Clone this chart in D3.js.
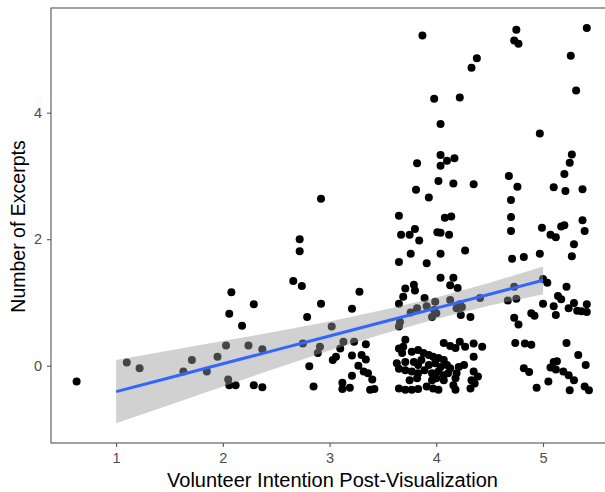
<!DOCTYPE html>
<html>
<head>
<meta charset="utf-8">
<script src="https://cdn.jsdelivr.net/npm/d3@7"></script>
<style>
  body { margin: 0; background: #fff; }
  text { font-family: "Liberation Sans", Arial, sans-serif; }
</style>
</head>
<body>
<script>
// jittered observations (volunteer intention, number of excerpts)
const intention = [
  0.63, 1.10, 1.22, 1.63, 1.71, 1.85, 1.95, 2.03, 2.05, 2.06, 2.12, 2.06, 2.08, 2.18, 2.24, 2.29, 2.29, 2.37, 2.37,
  2.66, 2.72, 2.72, 2.74, 2.79, 2.75, 2.81, 2.92, 2.92, 3.02, 3.28, 3.21, 3.34, 3.13, 3.23, 3.10, 2.91, 2.89, 3.06,
  3.03, 3.21, 3.30, 3.34, 3.27, 3.32, 3.36, 3.40, 3.21, 3.12, 3.12, 3.19, 2.85, 3.38, 3.42,
  3.65, 3.67, 3.65, 3.65, 3.65, 3.65, 3.63, 3.65, 3.65, 3.87, 4.38, 4.33, 3.98, 4.22, 4.04, 4.04, 4.10, 4.17, 4.04,
  3.82, 4.02, 4.16, 4.35, 3.81, 3.93, 4.08, 4.14, 3.75, 3.80, 3.84, 4.01, 4.04, 4.12, 3.76, 4.04, 4.27, 3.91, 4.04,
  4.16, 4.13, 4.20, 3.71, 3.79, 3.80, 3.69, 3.89, 3.99, 4.13, 4.22, 4.41, 3.76, 3.82, 3.91, 3.98, 4.19, 4.24, 3.96,
  4.00, 4.23, 4.32, 3.66,
  3.71, 3.69, 4.07, 4.13, 4.18, 4.22, 4.27, 4.35, 4.43, 3.68, 3.77, 3.83, 3.88, 3.93, 3.97, 4.02, 4.07, 4.35, 3.71,
  3.79, 3.83, 3.86, 3.93, 3.99, 4.04, 4.10, 4.13, 4.21, 4.26, 3.71, 3.77, 3.83, 3.89, 3.96, 4.02, 4.07, 4.11, 4.19,
  4.35, 4.39, 3.75, 3.82, 3.96, 4.00, 4.07, 4.18, 4.33, 4.36, 3.71, 3.77, 3.83, 3.91, 3.97, 4.02, 4.16, 4.18, 4.32,
  4.75, 4.73, 4.77, 5.41, 5.26, 5.31, 4.97, 5.27, 5.25, 5.20, 4.68, 4.76, 5.10, 5.21, 5.37, 4.70, 4.70, 5.37, 4.70,
  4.99, 5.17, 5.20, 5.07, 5.12, 5.39, 5.29, 5.27, 4.71, 4.82, 4.97, 5.00, 5.04, 4.73, 5.22, 4.67, 4.75, 5.00, 5.14,
  5.17, 5.10, 5.24, 5.29, 5.32, 5.36, 5.41, 5.41, 5.12, 4.89, 4.92, 4.73, 4.77, 4.74, 4.83, 4.89, 5.22, 5.33, 5.40,
  5.10, 5.13, 5.07, 5.12, 4.82, 4.87, 5.19, 5.24, 5.29, 5.05, 4.94, 5.25, 5.39, 5.43
];
const excerpts = [
  -0.25, 0.05, -0.04, -0.09, 0.09, -0.09, 0.14, 0.32, -0.22, -0.31, -0.31, 0.82, 1.16, 0.63, 0.32, 0.97, -0.31, -0.34, 0.26,
  1.34, 2.00, 1.81, 1.26, 0.77, 0.35, -0.01, 2.64, 0.98, 0.62, 1.17, 0.90, 0.34, 0.38, 0.38, 0.27, 0.30, 0.20, 0.14,
  0.09, 0.16, 0.17, 0.10, 0.00, -0.09, -0.12, -0.22, -0.16, -0.27, -0.37, -0.35, -0.33, -0.38, -0.37,
  2.37, 2.07, 1.64, 0.98, 0.62, 0.27, 0.04, -0.05, -0.36, 5.22, 4.86, 4.71, 4.22, 4.24, 3.82, 3.33, 3.24, 3.28, 3.16,
  3.20, 2.92, 2.88, 2.87, 2.78, 2.66, 2.34, 2.36, 2.07, 2.16, 1.98, 2.11, 2.10, 2.07, 1.77, 1.77, 1.82, 1.62, 1.39,
  1.39, 1.27, 1.23, 1.22, 1.28, 1.19, 1.09, 1.07, 1.01, 1.04, 0.97, 1.07, 0.84, 0.91, 0.94, 0.88, 0.91, 0.93, 0.77,
  0.83, 0.80, 0.77, 0.69,
  0.41, 0.30, 0.36, 0.31, 0.28, 0.38, 0.30, 0.35, 0.30, 0.20, 0.22, 0.25, 0.20, 0.17, 0.14, 0.12, 0.09, 0.14, 0.06,
  0.06, 0.01, 0.09, 0.01, 0.04, -0.02, 0.01, -0.04, -0.02, 0.01, -0.07, -0.09, -0.12, -0.07, -0.12, -0.09, -0.15, -0.12, -0.12,
  -0.09, -0.17, -0.23, -0.20, -0.23, -0.20, -0.23, -0.20, -0.23, -0.28, -0.38, -0.38, -0.37, -0.33, -0.36, -0.38, -0.31, -0.38, -0.36,
  5.31, 5.14, 5.09, 5.34, 4.90, 4.35, 3.67, 3.34, 3.21, 3.03, 3.00, 2.83, 2.82, 2.76, 2.79, 2.62, 2.35, 2.30, 2.13,
  2.18, 2.20, 2.22, 2.07, 2.03, 2.13, 1.92, 1.73, 1.69, 1.72, 1.77, 1.37, 1.31, 1.25, 1.25, 1.03, 1.06, 0.98, 1.10,
  1.05, 0.94, 0.91, 0.99, 0.87, 0.86, 0.97, 0.85, 0.80, 0.83, 0.79, 0.76, 0.65, 0.36, 0.35, 0.33, 0.36, 0.17, 0.01,
  0.06, 0.07, -0.03, -0.06, -0.04, -0.10, -0.09, -0.15, -0.23, -0.25, -0.35, -0.39, -0.33, -0.39
];

// linear fit and its confidence band
const fitX = [1, 1.5, 2, 2.5, 3, 3.5, 4, 4.5, 5];
const fitY = [-0.41, -0.19, 0.03, 0.25, 0.47, 0.69, 0.91, 1.13, 1.35];
const fitLo = [-0.91, -0.62, -0.33, -0.04, 0.24, 0.50, 0.74, 0.95, 1.13];
const fitHi = [0.09, 0.24, 0.39, 0.54, 0.70, 0.88, 1.08, 1.31, 1.57];

const xTicks = [1, 2, 3, 4, 5];
const yTicks = [0, 2, 4];

const width = 605, height = 492;
const panel = {left: 51, top: 8, right: 614, bottom: 443};

const svg = d3.select("body").append("svg")
    .attr("width", width)
    .attr("height", height);

const x = d3.scaleLinear().domain([0.39, 5.665]).range([panel.left, panel.right]);
const y = d3.scaleLinear().domain([-1.222, 5.655]).range([panel.bottom, panel.top]);

svg.append("clipPath").attr("id", "clip")
  .append("rect")
    .attr("x", panel.left).attr("y", panel.top)
    .attr("width", panel.right - panel.left).attr("height", panel.bottom - panel.top);

const plot = svg.append("g").attr("clip-path", "url(#clip)");

// points
plot.selectAll("circle")
  .data(d3.range(intention.length))
  .join("circle")
    .attr("cx", i => x(intention[i]))
    .attr("cy", i => y(excerpts[i]))
    .attr("r", 4)
    .attr("fill", "#000");

// confidence band
const band = d3.area()
    .x((d, i) => x(fitX[i]))
    .y0((d, i) => y(fitLo[i]))
    .y1((d, i) => y(fitHi[i]));
plot.append("path")
    .attr("d", band(fitX))
    .attr("fill", "#999999")
    .attr("fill-opacity", 0.45);

// fitted line
const line = d3.line()
    .x((d, i) => x(fitX[i]))
    .y((d, i) => y(fitY[i]));
plot.append("path")
    .attr("d", line(fitX))
    .attr("fill", "none")
    .attr("stroke", "#3366FF")
    .attr("stroke-width", 3);

// panel border
svg.append("rect")
    .attr("x", panel.left).attr("y", panel.top)
    .attr("width", panel.right - panel.left).attr("height", panel.bottom - panel.top)
    .attr("fill", "none")
    .attr("stroke", "#555")
    .attr("stroke-width", 1.1);

// axes
const xAxis = svg.append("g")
    .attr("transform", `translate(0,${panel.bottom})`)
    .call(d3.axisBottom(x).tickValues(xTicks).tickSize(4).tickPadding(6).tickFormat(d3.format("d")));
const yAxis = svg.append("g")
    .attr("transform", `translate(${panel.left},0)`)
    .call(d3.axisLeft(y).tickValues(yTicks).tickSize(4).tickPadding(5).tickFormat(d3.format("d")));

[xAxis, yAxis].forEach(g => {
  g.select(".domain").remove();
  g.selectAll(".tick line").attr("stroke", "#555").attr("stroke-width", 1.1);
  g.selectAll(".tick text")
      .attr("fill", "#4d4d4d")
      .style("font-size", "14.5px")
      .style("font-family", "'Liberation Sans', Arial, sans-serif");
});

// axis titles
svg.append("text")
    .attr("x", (panel.left + panel.right) / 2)
    .attr("y", 487)
    .attr("text-anchor", "middle")
    .style("font-size", "20px")
    .text("Volunteer Intention Post-Visualization");

svg.append("text")
    .attr("transform", `translate(25,${(panel.top + panel.bottom) / 2 + 1}) rotate(-90)`)
    .attr("text-anchor", "middle")
    .style("font-size", "19.5px")
    .text("Number of Excerpts");
</script>
</body>
</html>
